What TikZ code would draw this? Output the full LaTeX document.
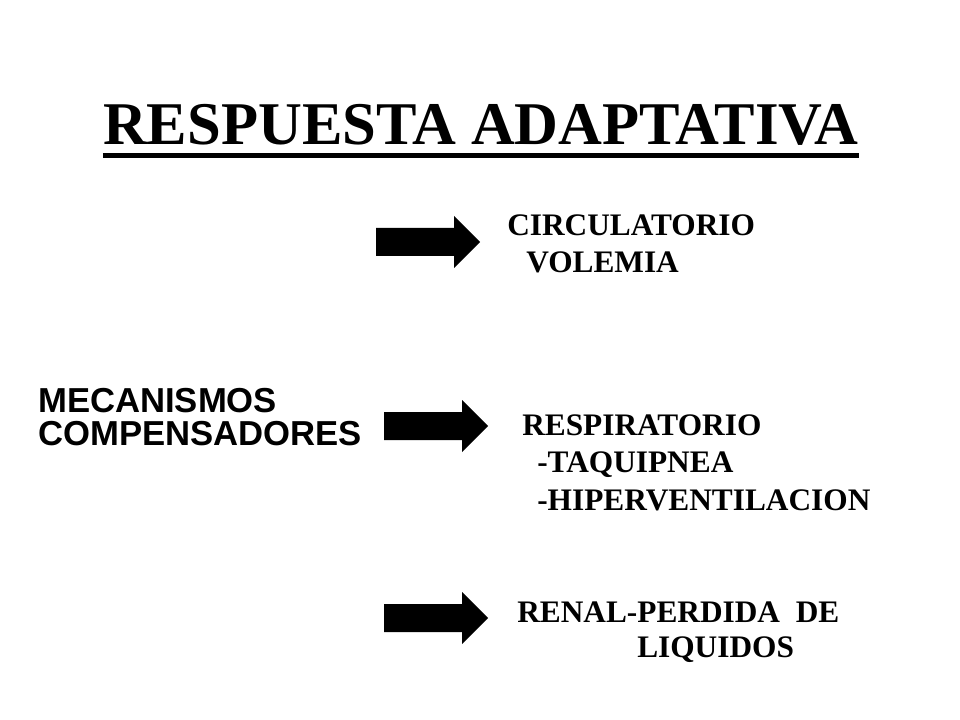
\documentclass[tikz,border=0pt]{standalone}
\usepackage{fontspec}
\setmainfont{Liberation Serif}
\newfontfamily\arialf{Liberation Sans}

\begin{document}
\begin{tikzpicture}[
  x=0.75pt, y=-0.75pt,
  titulo/.style={
    anchor=base, inner sep=0pt,
    font=\fontsize{45.5}{50}\selectfont\bfseries
  },
  sis/.style={
    anchor=base west, inner sep=0pt,
    font=\fontsize{23.5}{27}\selectfont\bfseries
  },
  mec/.style={
    anchor=base west, inner sep=0pt, align=left,
    font=\arialf\fontsize{26}{25}\selectfont\bfseries
  },
  flecha/.pic={
    \fill[black] (0,-14) -- (78,-14) -- (78,-26) -- (104,0)
      -- (78,26) -- (78,14) -- (0,14) -- cycle;
  },
]
\useasboundingbox (0,0) rectangle (960,720);

%%% Title with underline
\node[titulo] (tit) at (481,145) {RESPUESTA ADAPTATIVA};
\draw[line width=4pt] ([yshift=-7.9pt]tit.base west)
  -- ([yshift=-7.9pt]tit.base east);

%%% Left label
\node[mec] (mec1) at (38,412) {MECANISMOS};
\node[mec] (mec2) at (38,445) {COMPENSADORES};

%%% Block arrows
\coordinate (f1) at (376,242);
\coordinate (f2) at (384,426);
\coordinate (f3) at (384,618);
\pic at (f1) {flecha};
\pic at (f2) {flecha};
\pic at (f3) {flecha};

%%% Circulatorio
\node[sis] (c1) at (507,236) {CIRCULATORIO};
\node[sis] (c2) at (526,273) {VOLEMIA};

%%% Respiratorio
\node[sis] (r1) at (522,435) {RESPIRATORIO};
\node[sis] (r2) at (537,472) {-TAQUIPNEA};
\node[sis] (r3) at (537,510) {-HIPERVENTILACION};

%%% Renal
\node[sis] (n1) at (517,622) {RENAL-PERDIDA\ \ DE};
\node[sis] (n2) at (637,657) {LIQUIDOS};

\end{tikzpicture}
\end{document}
